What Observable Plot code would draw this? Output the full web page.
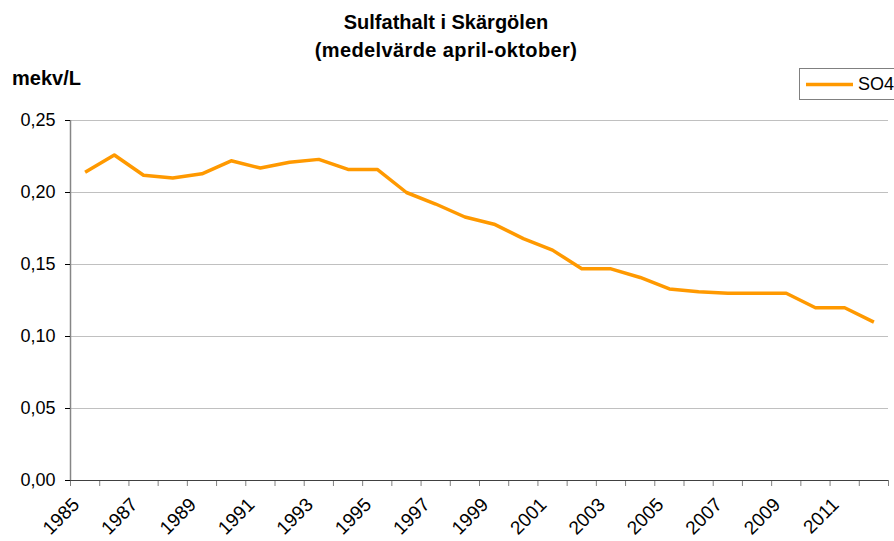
<!DOCTYPE html>
<html>
<head>
<meta charset="utf-8">
<script src="https://cdn.jsdelivr.net/npm/d3@7"></script>
<script src="https://cdn.jsdelivr.net/npm/@observablehq/plot@0.6"></script>
<style>
  html, body { margin: 0; padding: 0; background: #fff; overflow: hidden; }
  #wrap { position: relative; width: 894px; height: 541px; font-family: "Liberation Sans", Arial, sans-serif; }
  #wrap svg { position: absolute; left: 0; top: 0; }
  .t { position: absolute; white-space: nowrap; line-height: 1; color: #000; }
  .title { left: 0; width: 892px; text-align: center; font-weight: bold; font-size: 20px; }
  #legend { position: absolute; left: 799px; top: 68px; width: 110px; height: 32px; border: 1px solid #808080; box-sizing: border-box; background: #fff; }
</style>
</head>
<body>
<div id="wrap">
  <div id="chart"></div>
  <div class="t title" style="top:12px;">Sulfathalt i Skärgölen</div>
  <div class="t title" style="top:40px; letter-spacing:0.4px;">(medelvärde april-oktober)</div>
  <div class="t" style="left:12px; top:68px; font-weight:bold; font-size:20px;">mekv/L</div>
  <div id="legend"></div>
</div>
<script>
const years = [1985, 1986, 1987, 1988, 1989, 1990, 1991, 1992, 1993, 1994, 1995, 1996, 1997, 1998,
               1999, 2000, 2001, 2002, 2003, 2004, 2005, 2006, 2007, 2008, 2009, 2010, 2011, 2012];
const so4 = [0.214, 0.226, 0.212, 0.210, 0.213, 0.222, 0.217, 0.221, 0.223, 0.216, 0.216, 0.200, 0.192, 0.183,
             0.178, 0.168, 0.160, 0.147, 0.147, 0.141, 0.133, 0.131, 0.130, 0.130, 0.130, 0.120, 0.120, 0.110];
const yTicks = [0, 0.05, 0.10, 0.15, 0.20, 0.25];
const xLabels = [1985, 1987, 1989, 1991, 1993, 1995, 1997, 1999, 2001, 2003, 2005, 2007, 2009, 2011];
const seriesName = "SO4";
const lineColor = "#ff9900";

const data = years.map((y, i) => ({year: y, value: so4[i]}));
const x0 = years[0] - 0.5, x1 = years[years.length - 1] + 0.5;
const bounds = years.map(y => y - 0.5).concat([x1]);

const chart = Plot.plot({
  width: 894, height: 541,
  marginTop: 120, marginBottom: 61, marginLeft: 70, marginRight: 6,
  style: {fontFamily: "'Liberation Sans', Arial, sans-serif", fontSize: "18px", color: "#000", background: "transparent"},
  x: {type: "linear", domain: [x0, x1]},
  y: {domain: [0, 0.25]},
  marks: [
    Plot.gridY(yTicks, {stroke: "#c0c0c0", strokeOpacity: 1}),
    Plot.ruleX([x0], {stroke: "#868686", strokeWidth: 1.5}),
    Plot.axisY({ticks: yTicks, tickFormat: d => d.toFixed(2).replace(".", ","), tickSize: 5, tickPadding: 10, label: null, fontSize: 18}),
    Plot.axisX({ticks: bounds, tickFormat: () => "", tickSize: 6, label: null, stroke: "#808080"}),
    Plot.axisX({ticks: xLabels, tickFormat: d => String(d), tickSize: 0, tickRotate: -45, tickPadding: 21, dx: -9, label: null, fontSize: 19, style: "letter-spacing:0.3px"}),
    Plot.ruleY([0], {stroke: "#404040", strokeWidth: 1.2}),
    Plot.line(data, {x: "year", y: "value", stroke: lineColor, strokeWidth: 3.5, strokeLinejoin: "round", strokeLinecap: "butt"})
  ]
});
document.getElementById("chart").appendChild(chart);

// legend built from the series data
const lg = d3.select("#legend").append("svg").attr("width", 110).attr("height", 30).style("position", "absolute").style("left", 0).style("top", 0);
lg.append("line").attr("x1", 6).attr("x2", 53).attr("y1", 15.5).attr("y2", 15.5).attr("stroke", lineColor).attr("stroke-width", 3.5);
lg.append("text").attr("x", 58).attr("y", 21).attr("font-size", 18).attr("font-family", "'Liberation Sans', Arial, sans-serif").text(seriesName);
</script>
</body>
</html>
